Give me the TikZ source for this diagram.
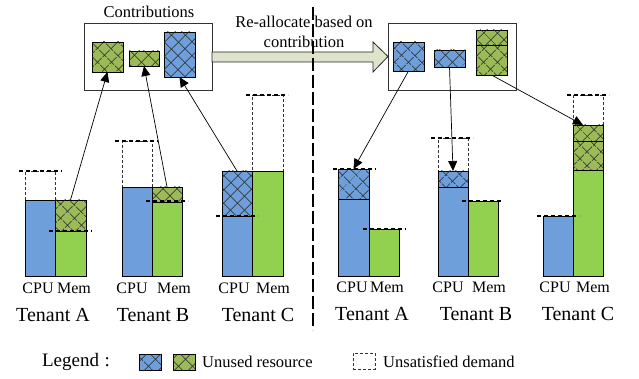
\documentclass[tikz,border=0pt]{standalone}
\usepackage{fontspec}
\setmainfont{Liberation Serif}
\usetikzlibrary{patterns.meta,arrows.meta,fit}

\definecolor{cpublue}{RGB}{111,159,219}
\definecolor{memgreen}{RGB}{146,208,80}
\definecolor{olivegr}{RGB}{155,187,89}
\definecolor{arrowfill}{RGB}{222,228,203}

\tikzset{
  box/.style={draw=black, line width=0.8pt, inner sep=0pt, outer sep=0pt},
  cpubar/.style={box, fill=cpublue},
  membar/.style={box, fill=memgreen},
  xhatch/.style={
    postaction={pattern={Lines[angle=45,distance=10.5pt,line width=0.8pt]}, pattern color=black!85},
    postaction={pattern={Lines[angle=-45,distance=10.5pt,line width=0.8pt]}, pattern color=black!85}},
  hatchblue/.style={box, fill=cpublue, xhatch},
  hatchgreen/.style={box, fill=olivegr, xhatch},
  unsat/.style={box, draw=black!80, line width=0.7pt, dash pattern=on 3pt off 2pt},
  level/.style={line width=2.4pt, dash pattern=on 4pt off 3pt},
  frame/.style={draw=black!80, line width=0.9pt, inner sep=0pt, outer sep=0pt},
  conn/.style={line width=0.7pt, -{Triangle[length=10pt,width=9pt]}},
  bigarrow/.style={draw=black!85, line width=0.8pt, fill=arrowfill},
  divider/.style={line width=1.3pt, dash pattern=on 13pt off 4pt},
  lbl/.style={inner sep=0pt, font=\fontsize{16}{18}\selectfont},
  tnt/.style={inner sep=0pt, font=\fontsize{20}{22}\selectfont},
  lgd/.style={inner sep=0pt, font=\fontsize{16.5}{18}\selectfont},
}

\begin{document}
\begin{tikzpicture}[x=1pt, y=-1pt]
\useasboundingbox (0,0) rectangle (639,379);

% ---------------- contributions (left) ----------------
\node[frame, fit={(84,23)(212,90)}] (lbox) {};
\node[hatchgreen, fit={(92,42)(123,72)}] (c1) {};
\node[hatchgreen, fit={(129,51)(159,66)}] (c2) {};
\node[hatchblue, fit={(164,32)(195,77)}] (c3) {};
\node[lgd] (contrib) at (149,12) {Contributions};

% ---------------- re-allocated (right) ----------------
\node[frame, fit={(388,23)(516,90)}] (rbox) {};
\node[hatchblue, fit={(393,42)(424,71)}] (r1) {};
\node[hatchblue, fit={(434,50)(465,67)}] (r2) {};
\node[hatchgreen, fit={(476,30)(507,45)}] (r3a) {};
\node[hatchgreen, fit={(476,45)(507,75)}] (r3b) {};

% big arrow
\draw[bigarrow] (lbox.east) ++(0,-4.5) -- (373,52) -- (373,42) -- (rbox.west) -- (373,72) -- (373,62) -- (212,62) -- cycle;
\node[lgd, align=center, font=\fontsize{16.5}{20}\selectfont] (realloc) at (304,32) {Re-allocate based on\\contribution};

% ---------------- left tenants ----------------
% Tenant A
\node[unsat, fit={(25,171)(55,200)}] (lAu) {};
\node[cpubar, fit={(25,200)(55,276)}] (lAc) {};
\node[membar, fit={(55,231)(86,276)}] (lAm) {};
\node[hatchgreen, fit={(55,200)(86,231)}] (lAh) {};
\draw[level] (19,171) -- (62,171);
\draw[level] (49,231) -- (92,231);
% Tenant B
\node[unsat, fit={(122,141)(152,187)}] (lBu) {};
\node[cpubar, fit={(122,187)(152,276)}] (lBc) {};
\node[membar, fit={(152,202)(182,276)}] (lBm) {};
\node[hatchgreen, fit={(152,187)(182,202)}] (lBh) {};
\draw[level] (115,141) -- (158,141);
\draw[level] (146,201) -- (188,201);
% Tenant C
\node[unsat, fit={(252,95)(283,171)}] (lCu) {};
\node[cpubar, fit={(222,216)(252,276)}] (lCc) {};
\node[hatchblue, fit={(222,171)(252,216)}] (lCh) {};
\node[membar, fit={(252,171)(283,276)}] (lCm) {};
\draw[level] (216,216) -- (258,216);
\draw[level] (246,95) -- (288,95);

% ---------------- right tenants ----------------
% Tenant A
\node[cpubar, fit={(338,199)(369,276)}] (rAc) {};
\node[hatchblue, fit={(338,169)(369,199)}] (rAh) {};
\node[membar, fit={(369,229)(399,276)}] (rAm) {};
\draw[level] (333,169) -- (376,169);
\draw[level] (363,229) -- (406,229);
% Tenant B
\node[unsat, fit={(438,138)(468,171)}] (rBu) {};
\node[cpubar, fit={(438,187)(468,276)}] (rBc) {};
\node[hatchblue, fit={(438,171)(468,187)}] (rBh) {};
\node[membar, fit={(468,201)(498,276)}] (rBm) {};
\draw[level] (431,138) -- (473,138);
\draw[level] (462,201) -- (503,201);
% Tenant C
\node[unsat, fit={(573,95)(603,125)}] (rCu) {};
\node[cpubar, fit={(543,216)(573,276)}] (rCc) {};
\node[membar, fit={(573,170)(603,276)}] (rCm) {};
\node[hatchgreen, fit={(573,141)(603,170)}] (rCh2) {};
\node[hatchgreen, fit={(573,125)(603,141)}] (rCh1) {};
\draw[level] (537,216) -- (579,216);
\draw[level] (567,95) -- (609,95);

% ---------------- connectors ----------------
\draw[conn] (lAh.north) -- (c1.south);
\draw[conn] (lBh.north) -- (c2.south);
\draw[conn] (lCh.north) -- (c3.south);
\draw[conn] (r1.south) -- (rAh.north);
\draw[conn] (r2.south) -- (rBh.north);
\draw[conn] (r3b.south) -- ([xshift=-5pt]rCh1.north);

% ---------------- labels ----------------
\node[lbl] (lAcpu) at (38,288) {CPU};
\node[lbl] (lAmem) at (74,288) {Mem};
\node[lbl] (lBcpu) at (132,288) {CPU};
\node[lbl] (lBmem) at (174,288) {Mem};
\node[lbl] (lCcpu) at (234,288) {CPU};
\node[lbl] (lCmem) at (273,288) {Mem};
\node[lbl] (rAcpu) at (352,287) {CPU};
\node[lbl] (rAmem) at (387,287) {Mem};
\node[lbl] (rBcpu) at (448,287) {CPU};
\node[lbl] (rBmem) at (489,287) {Mem};
\node[lbl] (rCcpu) at (555,287) {CPU};
\node[lbl] (rCmem) at (593,287) {Mem};

\node[tnt] (lAt) at (53,315) {Tenant A};
\node[tnt] (lBt) at (153,315) {Tenant B};
\node[tnt] (lCt) at (258,315) {Tenant C};
\node[tnt] (rAt) at (372,314) {Tenant A};
\node[tnt] (rBt) at (476,314) {Tenant B};
\node[tnt] (rCt) at (578,314) {Tenant C};

% divider
\coordinate (dtop) at (313,7);
\coordinate (dbot) at (313,330);
\draw[divider] (dtop) -- (dbot);

% ---------------- legend ----------------
\node[tnt, font=\fontsize{19}{22}\selectfont] (legend) at (76,362) {Legend\hspace{0.3em}:};
\node[hatchblue, line width=0.7pt, fit={(139,354)(161,370)}] (lgb) {};
\node[hatchgreen, line width=0.7pt, fit={(173,354)(195,370)}] (lgg) {};
\node[lgd, anchor=west] (lgu) at (202,362) {Unused resource};
\node[unsat, fit={(353,353)(375,369)}] (lgs) {};
\node[lgd, anchor=west] (lgd2) at (383,362) {Unsatisfied demand};
\end{tikzpicture}
\end{document}
